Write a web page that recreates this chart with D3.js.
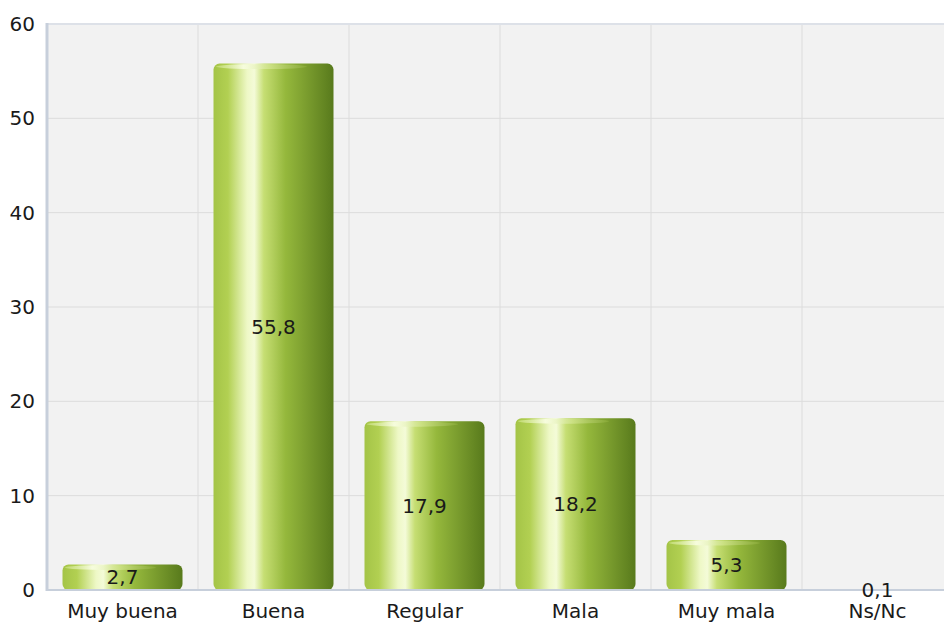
<!DOCTYPE html>
<html><head><meta charset="utf-8">
<script src="https://cdn.jsdelivr.net/npm/d3@7"></script>
<style>body{margin:0;background:#fff;}svg{display:block;}</style>
</head><body>
<svg id="c" width="944" height="626"></svg>
<script>
const categories = ["Muy buena","Buena","Regular","Mala","Muy mala","Ns/Nc"];
const values = [2.7, 55.8, 17.9, 18.2, 5.3, 0.1];
const valueLabels = ["2,7","55,8","17,9","18,2","5,3","0,1"];
const yTicks = [0,10,20,30,40,50,60];

const svg = d3.select("#c");
const m = {left:47, top:24, right:953, bottom:590};
const x = d3.scaleBand().domain(categories).range([m.left, m.right]).paddingInner(0).paddingOuter(0);
const y = d3.scaleLinear().domain([0,60]).range([m.bottom, m.top]);
const font = "DejaVu Sans, Verdana, sans-serif";

const defs = svg.append("defs");
const g1 = defs.append("linearGradient").attr("id","cyl").attr("x1","0").attr("x2","1").attr("y1","0").attr("y2","0");
[["0%","#a4c447"],["12%","#b2d052"],["28%","#eef8c6"],["34%","#f4fbd8"],["42%","#c6de73"],["60%","#95b83c"],["85%","#6f9128"],["100%","#587a1c"]]
 .forEach(([o,c])=>g1.append("stop").attr("offset",o).attr("stop-color",c));
const g2 = defs.append("linearGradient").attr("id","cap").attr("x1","0").attr("x2","1").attr("y1","0").attr("y2","0");
[["0%","#c8e07a"],["30%","#fbffe8"],["60%","#cfe38a"],["100%","#8aab38"]]
 .forEach(([o,c])=>g2.append("stop").attr("offset",o).attr("stop-color",c));
const clip = defs.append("clipPath").attr("id","pc");
clip.append("rect").attr("x",m.left).attr("y",m.top).attr("width",m.right-m.left).attr("height",m.bottom-m.top);

// plot background
svg.append("rect").attr("x",m.left).attr("y",m.top).attr("width",m.right-m.left).attr("height",m.bottom-m.top).attr("fill","#f2f2f2");

// grid
const grid = svg.append("g").attr("clip-path","url(#pc)");
grid.selectAll(".hg").data(yTicks.slice(1,-1)).join("line")
  .attr("x1",m.left).attr("x2",m.right).attr("y1",d=>y(d)).attr("y2",d=>y(d))
  .attr("stroke","#dcdcdc").attr("stroke-width",1);
grid.selectAll(".vg").data(categories.slice(1)).join("line")
  .attr("x1",d=>x(d)).attr("x2",d=>x(d)).attr("y1",m.top).attr("y2",m.bottom)
  .attr("stroke","#dcdcdc").attr("stroke-width",1);

// top border
svg.append("line").attr("x1",m.left).attr("x2",944).attr("y1",m.top).attr("y2",m.top).attr("stroke","#dde1e8").attr("stroke-width",2);

// bars
const bw = 120;
const bars = svg.append("g");
categories.forEach((c,i)=>{
  const v = values[i];
  const bx = x(c) + (x.bandwidth()-bw)/2;
  const by = y(v), bh = y(0)-y(v);
  if (bh < 1) return;
  const r = Math.min(6, bh/2);
  bars.append("rect").attr("x",bx).attr("y",by).attr("width",bw).attr("height",bh)
    .attr("rx",r).attr("ry",r).attr("fill","url(#cyl)");
  const ch = Math.min(5, bh/3);
  bars.append("ellipse").attr("cx",bx+bw*0.4).attr("cy",by+ch/2+0.5).attr("rx",bw*0.38).attr("ry",ch/2)
    .attr("fill","url(#cap)").attr("opacity",0.8);
});

// axes
svg.append("line").attr("x1",m.left).attr("x2",m.left).attr("y1",m.top-1).attr("y2",m.bottom+1).attr("stroke","#c7cfdb").attr("stroke-width",3);
svg.append("line").attr("x1",m.left).attr("x2",944).attr("y1",m.bottom).attr("y2",m.bottom).attr("stroke","#c7cfdb").attr("stroke-width",2);

// value labels
svg.append("g").selectAll("text").data(categories).join("text")
  .attr("x",d=>x(d)+x.bandwidth()/2)
  .attr("y",(d,i)=>(y(values[i])+y(0))/2)
  .attr("dy","0.35em").attr("text-anchor","middle")
  .attr("font-family",font).attr("font-size",20).attr("fill","#1a1a1a")
  .text((d,i)=>valueLabels[i]);

// y axis labels
svg.append("g").selectAll("text").data(yTicks).join("text")
  .attr("x",35).attr("y",d=>y(d)).attr("dy","0.35em").attr("text-anchor","end")
  .attr("font-family",font).attr("font-size",20).attr("fill","#1a1a1a").text(d=>d);

// x labels
svg.append("g").selectAll("text").data(categories).join("text")
  .attr("x",d=>x(d)+x.bandwidth()/2).attr("y",618).attr("text-anchor","middle")
  .attr("font-family",font).attr("font-size",20).attr("fill","#1a1a1a").text(d=>d);
</script>
</body></html>
